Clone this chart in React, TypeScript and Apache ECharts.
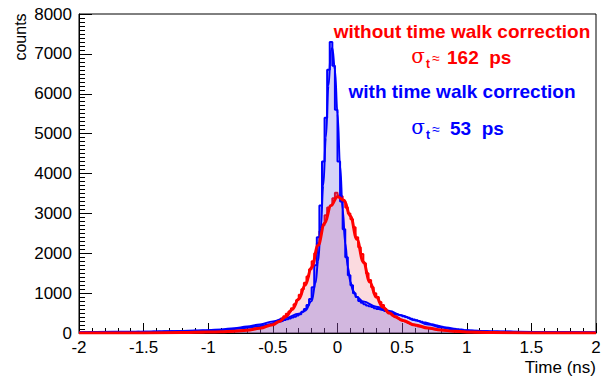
import React, { useEffect, useRef } from "react";
import * as echarts from "echarts";

// Histogram: 200 bins of 0.02 ns from -2 to 2 (values = counts per bin)
const binLow = -2;
const binWidth = 0.02;

const redCounts = [
  0, 0, 2, 0, 3, 0, 2, 5, 0, 3,
  4, 2, 5, 3, 6, 4, 3, 7, 5, 4,
  6, 5, 8, 6, 4, 9, 7, 8, 10, 6,
  9, 11, 8, 12, 10, 13, 11, 14, 12, 15,
  14, 17, 15, 18, 20, 17, 22, 19, 24, 22,
  25, 27, 30, 28, 33, 36, 34, 40, 43, 47,
  50, 55, 60, 67, 75, 83, 92, 103, 115, 135,
  150, 165, 180, 200, 220, 245, 280, 320, 365, 420,
  480, 540, 620, 720, 830, 960, 1100, 1260, 1420, 1600,
  1800, 2000, 2250, 2550, 2700, 2950, 3150, 3200, 3380, 3520,
  3450, 3430, 3300, 3150, 3000, 2850, 2650, 2400, 2150, 1980,
  1750, 1500, 1330, 1150, 1000, 900, 780, 700, 600, 560,
  500, 440, 420, 370, 340, 300, 280, 250, 225, 205,
  185, 165, 150, 135, 122, 110, 100, 90, 82, 74,
  68, 60, 55, 50, 45, 41, 37, 34, 30, 28,
  25, 23, 20, 19, 17, 15, 14, 12, 11, 10,
  9, 8, 8, 7, 6, 6, 5, 5, 4, 4,
  4, 3, 3, 2, 3, 2, 2, 1, 2, 1,
  1, 2, 1, 0, 1, 1, 0, 1, 0, 1,
  0, 1, 0, 0, 1, 0, 0, 1, 0, 0,
];

const blueCounts = [
  15, 18, 14, 20, 17, 19, 16, 21, 18, 20,
  22, 19, 24, 21, 25, 23, 26, 22, 27, 25,
  28, 26, 30, 27, 32, 29, 33, 31, 35, 33,
  36, 34, 38, 40, 37, 42, 40, 44, 43, 47,
  46, 50, 48, 53, 55, 52, 58, 60, 57, 63,
  66, 70, 68, 75, 78, 82, 86, 90, 95, 100,
  106, 112, 118, 125, 133, 140, 150, 158, 168, 178,
  190, 200, 212, 225, 240, 255, 270, 290, 305, 325,
  345, 365, 390, 410, 440, 470, 530, 600, 700, 850,
  1150, 1700, 2400, 3200, 4300, 5400, 6600, 7300, 6700, 5600,
  4300, 3300, 2600, 1900, 1450, 1200, 1000, 900, 800, 760,
  720, 690, 670, 650, 620, 600, 585, 570, 550, 530,
  510, 490, 470, 455, 440, 420, 400, 380, 360, 340,
  320, 300, 280, 262, 245, 228, 212, 196, 180, 165,
  150, 140, 130, 120, 110, 100, 92, 85, 78, 72,
  66, 62, 58, 54, 50, 47, 44, 42, 40, 38,
  36, 35, 33, 32, 31, 30, 29, 28, 27, 26,
  25, 25, 24, 23, 22, 22, 21, 21, 20, 20,
  19, 19, 18, 18, 17, 17, 16, 16, 15, 15,
  15, 14, 14, 14, 13, 13, 13, 12, 12, 12,
];

// Fit curves: [time (ns), counts]
const redFit: [number, number][] = [
  [-2, 0], [-1.5, 3], [-1.2, 10], [-1.0, 22], [-0.9, 32], [-0.8, 46], [-0.7, 70],
  [-0.6, 120], [-0.5, 210], [-0.45, 290], [-0.4, 410], [-0.35, 590], [-0.3, 850],
  [-0.25, 1200], [-0.2, 1650], [-0.15, 2200], [-0.1, 2750], [-0.05, 3200], [0, 3420],
  [0.05, 3330], [0.1, 2930], [0.15, 2350], [0.2, 1780], [0.25, 1280], [0.3, 900],
  [0.35, 650], [0.4, 500], [0.45, 400], [0.5, 320], [0.6, 200], [0.7, 125], [0.8, 75],
  [0.9, 45], [1.0, 27], [1.2, 10], [1.5, 3], [2, 0],
];

const blueFit: [number, number][] = [
  [-2, 20], [-1.6, 30], [-1.2, 50], [-1.0, 70], [-0.9, 90], [-0.8, 118], [-0.7, 160],
  [-0.6, 215], [-0.5, 290], [-0.4, 380], [-0.3, 480], [-0.25, 560], [-0.2, 800],
  [-0.17, 1250], [-0.15, 1800], [-0.13, 2600], [-0.11, 3700], [-0.09, 4900],
  [-0.07, 6200], [-0.05, 7100], [-0.04, 7150], [-0.02, 6600], [0, 5500], [0.02, 4200],
  [0.04, 3100], [0.06, 2250], [0.08, 1650], [0.1, 1280], [0.12, 1060], [0.15, 900],
  [0.2, 790], [0.3, 660], [0.4, 550], [0.5, 440], [0.6, 320], [0.7, 215], [0.8, 140],
  [0.9, 90], [1.0, 62], [1.2, 40], [1.6, 27], [2, 18],
];

const xTicks = { min: -2, max: 2, interval: 0.5 };
const yTicks = { min: 0, max: 8000, interval: 1000 };

const toSteps = (counts: number[]) => {
  const pts: [number, number][] = counts.map((c, i) => [
    +(binLow + i * binWidth).toFixed(4),
    c,
  ]);
  pts.push([+(binLow + counts.length * binWidth).toFixed(4), counts[counts.length - 1]]);
  return pts;
};

const RED = "#ff0000";
const BLUE = "#0000ff";
const FONT = "'Liberation Sans', Arial, Helvetica, sans-serif";

export default function App() {
  const ref = useRef<HTMLDivElement>(null);
  useEffect(() => {
    if (!ref.current) return;
    const chart = echarts.init(ref.current, null, { renderer: "svg" });
    const sigmaLine = (y: number, color: string, value: string, vx: number) => [
      {
        type: "text",
        x: 418,
        y: y - 1,
        style: {
          text: "σ",
          font: "20px 'DejaVu Serif', serif",
          fill: color,
          align: "center",
          verticalAlign: "middle",
        },
      },
      {
        type: "text",
        x: 428,
        y: y + 7,
        style: {
          text: "t",
          font: `bold 12px ${FONT}`,
          fill: color,
          align: "center",
          verticalAlign: "middle",
        },
      },
      {
        type: "text",
        x: 436,
        y: y + 1,
        style: {
          text: "≈",
          font: `14px ${FONT}`,
          fill: color,
          align: "center",
          verticalAlign: "middle",
        },
      },
      {
        type: "text",
        x: vx,
        y: y,
        style: {
          text: value,
          font: `bold 19px ${FONT}`,
          fill: color,
          align: "left",
          verticalAlign: "middle",
        },
      },
    ];
    chart.setOption({
      animation: false,
      backgroundColor: "#ffffff",
      grid: {
        left: 79,
        right: 10,
        top: 14,
        bottom: 42,
        show: true,
        borderColor: "#000",
        borderWidth: 1,
      },
      xAxis: {
        type: "value",
        ...xTicks,
        name: "Time (ns)",
        nameLocation: "end",
        nameGap: 0,
        nameTextStyle: {
          fontFamily: FONT,
          fontSize: 17,
          color: "#000",
          align: "right",
          verticalAlign: "top",
          padding: [26, 0, 0, 0],
        },
        axisLine: { onZero: false, lineStyle: { color: "#000", width: 1 } },
        axisTick: { inside: true, length: 10, lineStyle: { color: "#000" } },
        minorTick: { show: true, splitNumber: 5, length: 5, lineStyle: { color: "#000" } },
        axisLabel: {
          fontFamily: FONT,
          fontSize: 17,
          color: "#000",
          margin: 6,
          formatter: (v: number) => String(v),
        },
        splitLine: { show: false },
      },
      yAxis: {
        type: "value",
        ...yTicks,
        axisLine: { onZero: false, lineStyle: { color: "#000", width: 1 } },
        axisTick: { inside: true, length: 13, lineStyle: { color: "#000" } },
        minorTick: { show: true, splitNumber: 10, length: 6, lineStyle: { color: "#000" } },
        axisLabel: {
          fontFamily: FONT,
          fontSize: 17,
          color: "#000",
          margin: 7,
          formatter: (v: number) => String(v),
        },
        splitLine: { show: false },
      },
      series: [
        {
          type: "line",
          name: "without correction",
          data: toSteps(redCounts),
          step: "end",
          symbol: "none",
          lineStyle: { color: RED, width: 2 },
          areaStyle: { color: "rgba(240, 100, 120, 0.34)" },
          z: 2,
        },
        {
          type: "line",
          name: "with correction",
          data: toSteps(blueCounts),
          step: "end",
          symbol: "none",
          lineStyle: { color: BLUE, width: 2 },
          areaStyle: { color: "rgba(80, 70, 225, 0.34)" },
          z: 3,
        },
        {
          type: "line",
          name: "fit with",
          data: blueFit,
          smooth: 0.4,
          smoothMonotone: "x",
          symbol: "none",
          lineStyle: { color: BLUE, width: 2 },
          z: 4,
        },
        {
          type: "line",
          name: "fit without",
          data: redFit,
          smooth: 0.4,
          smoothMonotone: "x",
          symbol: "none",
          lineStyle: { color: RED, width: 3 },
          z: 5,
        },
      ],
      graphic: [
        {
          type: "text",
          x: 20,
          y: 37,
          rotation: Math.PI / 2,
          style: {
            text: "counts",
            font: `16px ${FONT}`,
            fill: "#000",
            align: "center",
            verticalAlign: "middle",
          },
        },
        {
          type: "text",
          x: 462,
          y: 31,
          style: {
            text: "without time walk correction",
            font: `bold 19px ${FONT}`,
            fill: RED,
            align: "center",
            verticalAlign: "middle",
          },
        },
        ...sigmaLine(57, RED, "162  ps", 447),
        {
          type: "text",
          x: 462,
          y: 91,
          style: {
            text: "with time walk correction",
            font: `bold 19px ${FONT}`,
            fill: BLUE,
            align: "center",
            verticalAlign: "middle",
          },
        },
        ...sigmaLine(128, BLUE, "53  ps", 450),
      ],
    });
    return () => chart.dispose();
  }, []);
  return (
    <div
      ref={ref}
      style={{ position: "fixed", left: 0, top: 0, width: 606, height: 376 }}
    />
  );
}
